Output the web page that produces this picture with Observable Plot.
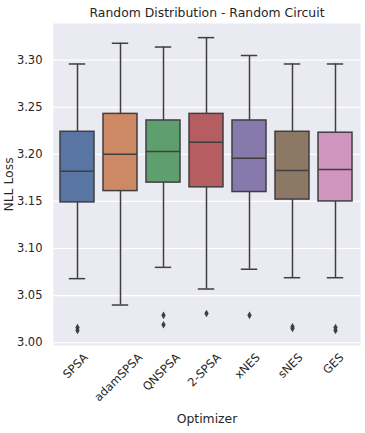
<!DOCTYPE html>
<html>
<head>
<meta charset="utf-8">
<script src="https://cdn.jsdelivr.net/npm/d3@7"></script>
<script src="https://cdn.jsdelivr.net/npm/@observablehq/plot@0.6"></script>
<style>
  body { margin: 0; background: white; }
</style>
</head>
<body>
<div id="chart"></div>
<script>
const categories = ["SPSA", "adamSPSA", "QNSPSA", "2-SPSA", "xNES", "sNES", "GES"];
const whiskerHigh = [3.296, 3.318, 3.314, 3.324, 3.305, 3.296, 3.296];
const q3 = [3.224, 3.243, 3.236, 3.243, 3.236, 3.224, 3.223];
const median = [3.182, 3.200, 3.203, 3.213, 3.196, 3.183, 3.184];
const q1 = [3.149, 3.161, 3.170, 3.165, 3.160, 3.152, 3.150];
const whiskerLow = [3.068, 3.040, 3.080, 3.057, 3.078, 3.069, 3.069];
const outlierOptimizer = ["SPSA", "SPSA", "QNSPSA", "QNSPSA", "2-SPSA", "xNES", "sNES", "sNES", "GES", "GES"];
const outlierValue = [3.016, 3.013, 3.029, 3.019, 3.031, 3.029, 3.017, 3.015, 3.016, 3.013];
const boxColors = ["#5875a4", "#cc8963", "#5f9e6e", "#b55d60", "#857aab", "#8d7866", "#d095bf"];
const yTicks = [3.00, 3.05, 3.10, 3.15, 3.20, 3.25, 3.30];
const titleText = "Random Distribution - Random Circuit";
const xLabel = "Optimizer";
const yLabel = "NLL Loss";

const table = categories.map((c, i) => ({
  optimizer: c, lo: whiskerLow[i], q1: q1[i], med: median[i], q3: q3[i], hi: whiskerHigh[i]
}));
const outliers = outlierOptimizer.map((c, i) => ({optimizer: c, value: outlierValue[i]}));

const font = "DejaVu Sans";
const textColor = "#262626";
const lineColor = "#3f3f3f";
const tickFont = 11.5;

const ctx = document.createElement("canvas").getContext("2d");
ctx.font = `${tickFont}px "${font}"`;
const labelMarks = categories.map(c => {
  const w = ctx.measureText(c).width;
  return Plot.text([c], {
    x: d => d, text: d => d, frameAnchor: "bottom", dy: 10, dx: w / (2 * Math.SQRT2) - 2,
    rotate: -45, textAnchor: "end", lineAnchor: "middle", fontSize: tickFont, fill: textColor
  });
});

const chart = Plot.plot({
  width: 365,
  height: 433,
  marginLeft: 53,
  marginRight: 5,
  marginTop: 23,
  marginBottom: 88,
  style: {fontFamily: font, background: "white", color: textColor},
  x: {domain: categories, paddingInner: 0.2, paddingOuter: 0.1, axis: null},
  y: {domain: [2.997, 3.339]},
  color: {domain: categories, range: boxColors},
  marks: [
    Plot.frame({fill: "#eaeaf2", stroke: null}),
    Plot.gridY(yTicks, {stroke: "white", strokeOpacity: 1, strokeWidth: 1.2}),
    Plot.axisY(yTicks, {tickSize: 0, tickPadding: 11, tickFormat: d3.format(".2f"), fontSize: tickFont, fill: textColor, label: null}),
    Plot.ruleX(table, {x: "optimizer", y1: "q3", y2: "hi", stroke: lineColor, strokeWidth: 1.5}),
    Plot.ruleX(table, {x: "optimizer", y1: "lo", y2: "q1", stroke: lineColor, strokeWidth: 1.5}),
    Plot.tickY(table, {x: "optimizer", y: "hi", insetLeft: 8.8, insetRight: 8.8, stroke: lineColor, strokeWidth: 1.5}),
    Plot.tickY(table, {x: "optimizer", y: "lo", insetLeft: 8.8, insetRight: 8.8, stroke: lineColor, strokeWidth: 1.5}),
    Plot.barY(table, {x: "optimizer", y1: "q1", y2: "q3", fill: "optimizer", stroke: lineColor, strokeWidth: 1.5}),
    Plot.tickY(table, {x: "optimizer", y: "med", stroke: lineColor, strokeWidth: 1.5}),
    Plot.dot(outliers, {x: "optimizer", y: "value", symbol: "diamond", r: 2.3, fill: lineColor, stroke: null}),
    ...labelMarks,
    Plot.text([titleText], {text: d => d, frameAnchor: "top", lineAnchor: "middle", dy: -10.5, fontSize: 12.4, fill: textColor}),
    Plot.text([xLabel], {text: d => d, frameAnchor: "bottom", lineAnchor: "middle", dy: 74, fontSize: 12.4, fill: textColor}),
    Plot.text([yLabel], {text: d => d, frameAnchor: "left", textAnchor: "middle", lineAnchor: "middle", dx: -44, rotate: -90, fontSize: 12.4, fill: textColor})
  ]
});
document.getElementById("chart").appendChild(chart);
</script>
</body>
</html>
